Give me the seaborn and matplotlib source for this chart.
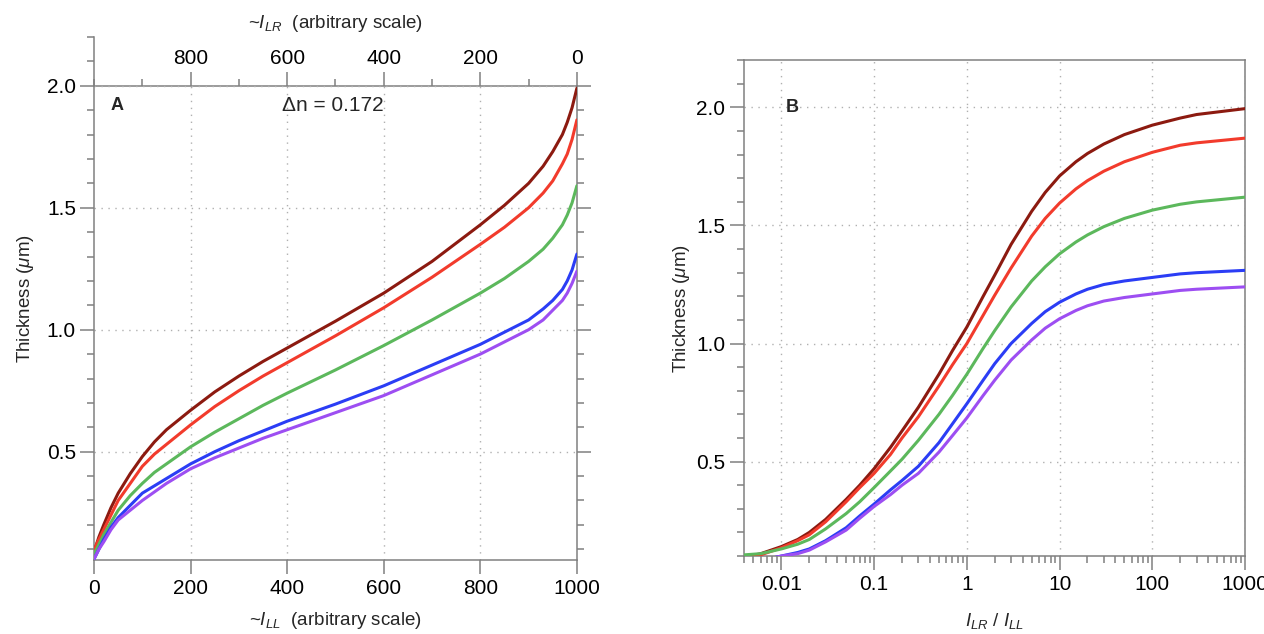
import numpy as np
import pandas as pd
import matplotlib
matplotlib.use("Agg")
import matplotlib.pyplot as plt
import matplotlib.ticker as mticker
import seaborn as sns

# ---- data ----
curve_names = ["c1", "c2", "c3", "c4", "c5"]
curve_colors = ["#8c1a10", "#f23b2c", "#5cb85c", "#2b3df5", "#9d4ef2"]

# panel A: thickness vs ~I_LL (arbitrary scale)
i_ll = [0, 5, 10, 20, 35, 50, 75, 100, 125, 150, 200, 250, 300, 350, 400, 500, 600,
        700, 800, 850, 900, 930, 950, 970, 980, 990, 1000]
a_darkred = [0.09, 0.12, 0.15, 0.20, 0.27, 0.33, 0.41, 0.48, 0.54, 0.59, 0.67, 0.745, 0.81,
             0.87, 0.925, 1.035, 1.15, 1.28, 1.43, 1.51, 1.60, 1.67, 1.73, 1.80, 1.85, 1.91, 1.99]
a_red = [0.09, 0.12, 0.14, 0.18, 0.24, 0.30, 0.37, 0.44, 0.49, 0.53, 0.61, 0.685, 0.75,
         0.81, 0.865, 0.975, 1.09, 1.215, 1.35, 1.42, 1.50, 1.56, 1.61, 1.68, 1.72, 1.78, 1.86]
a_green = [0.08, 0.10, 0.12, 0.16, 0.21, 0.26, 0.32, 0.37, 0.415, 0.45, 0.52, 0.58, 0.635,
           0.69, 0.74, 0.835, 0.935, 1.04, 1.15, 1.21, 1.28, 1.33, 1.375, 1.43, 1.47, 1.52, 1.59]
a_blue = [0.06, 0.08, 0.10, 0.14, 0.19, 0.23, 0.28, 0.33, 0.36, 0.39, 0.45, 0.50, 0.545,
          0.585, 0.625, 0.695, 0.77, 0.855, 0.94, 0.99, 1.04, 1.085, 1.12, 1.165, 1.20, 1.245, 1.31]
a_purple = [0.06, 0.08, 0.10, 0.13, 0.18, 0.22, 0.26, 0.30, 0.335, 0.37, 0.43, 0.475, 0.515,
            0.555, 0.59, 0.66, 0.73, 0.815, 0.90, 0.95, 1.00, 1.04, 1.08, 1.12, 1.15, 1.19, 1.24]

# panel B: thickness vs I_LR / I_LL
ratio = [0.004, 0.006, 0.01, 0.015, 0.02, 0.03, 0.05, 0.07, 0.1, 0.15, 0.2, 0.3, 0.5, 0.7,
         1, 1.5, 2, 3, 5, 7, 10, 15, 20, 30, 50, 100, 200, 300, 1000]
b_darkred = [0.095, 0.11, 0.14, 0.17, 0.20, 0.255, 0.34, 0.40, 0.47, 0.56, 0.63, 0.73, 0.87,
             0.97, 1.07, 1.20, 1.29, 1.42, 1.56, 1.64, 1.71, 1.77, 1.805, 1.845, 1.885,
             1.925, 1.955, 1.97, 1.995]
b_red = [0.09, 0.105, 0.135, 0.165, 0.19, 0.245, 0.33, 0.39, 0.45, 0.53, 0.60, 0.69, 0.82,
         0.91, 1.00, 1.12, 1.205, 1.32, 1.455, 1.53, 1.595, 1.655, 1.69, 1.73, 1.77,
         1.81, 1.84, 1.85, 1.87]
b_green = [0.105, 0.11, 0.13, 0.15, 0.17, 0.215, 0.28, 0.33, 0.39, 0.46, 0.51, 0.59, 0.70,
           0.78, 0.87, 0.98, 1.055, 1.155, 1.265, 1.325, 1.38, 1.43, 1.46, 1.495, 1.53,
           1.565, 1.59, 1.60, 1.62]
b_blue = [0.06, 0.08, 0.10, 0.115, 0.13, 0.165, 0.22, 0.27, 0.32, 0.38, 0.42, 0.48, 0.58,
          0.66, 0.745, 0.845, 0.915, 1.00, 1.085, 1.135, 1.175, 1.21, 1.23, 1.25, 1.265,
          1.28, 1.295, 1.30, 1.31]
b_purple = [0.06, 0.08, 0.10, 0.11, 0.125, 0.16, 0.21, 0.26, 0.31, 0.36, 0.40, 0.45, 0.54,
            0.61, 0.685, 0.78, 0.845, 0.93, 1.015, 1.065, 1.105, 1.14, 1.16, 1.18, 1.195,
            1.21, 1.225, 1.23, 1.24]

y_ticks = [0.5, 1.0, 1.5, 2.0]
top_ticks = [0, 200, 400, 600, 800]

# long tables for seaborn
df_a = pd.DataFrame({
    "x": np.tile(i_ll, len(curve_names)),
    "y": np.concatenate([a_darkred, a_red, a_green, a_blue, a_purple]),
    "curve": np.repeat(curve_names, len(i_ll)),
})
df_b = pd.DataFrame({
    "x": np.tile(ratio, len(curve_names)),
    "y": np.concatenate([b_darkred, b_red, b_green, b_blue, b_purple]),
    "curve": np.repeat(curve_names, len(ratio)),
})

sns.set_theme(style="white")
plt.rcParams["font.family"] = ["Liberation Sans", "DejaVu Sans"]
plt.rcParams.update({
    "mathtext.fontset": "custom",
    "mathtext.rm": "Liberation Sans",
    "mathtext.it": "Liberation Sans:italic",
    "mathtext.bf": "Liberation Sans:bold",
    "axes.edgecolor": "#808080",
    "axes.linewidth": 1.1,
    "xtick.color": "#808080",
    "ytick.color": "#808080",
    "xtick.labelcolor": "black",
    "ytick.labelcolor": "black",
    "xtick.labelsize": 15,
    "ytick.labelsize": 15,
})

grid_kw = dict(color="#b0b0b0", linestyle=(0, (1, 4)), linewidth=1.0)
palette = dict(zip(curve_names, curve_colors))
spine_c = "#808080"

fig = plt.figure(figsize=(12.64, 6.34), dpi=100)

# ---------------- panel A ----------------
axA = fig.add_axes([0.0744, 0.1167, 0.382, 0.825])
sns.lineplot(data=df_a, x="x", y="y", hue="curve", palette=palette, legend=False,
             linewidth=2.2, ax=axA, zorder=3)
ylo, yhi = 0.056, 2.2
axA.set_xlim(0, 1000)
axA.set_ylim(ylo, yhi)
axA.spines["top"].set_visible(False)
axA.spines["right"].set_bounds(ylo, 2.0)

axA.xaxis.set_major_locator(mticker.MultipleLocator(200))
axA.xaxis.set_minor_locator(mticker.NullLocator())
axA.yaxis.set_major_locator(mticker.FixedLocator(y_ticks))
axA.yaxis.set_major_formatter(mticker.FormatStrFormatter("%.1f"))
axA.yaxis.set_minor_locator(mticker.MultipleLocator(0.1))
axA.tick_params(axis="x", which="major", direction="out", length=10, width=1.1,
                bottom=True, top=False, pad=4)
axA.tick_params(axis="y", which="both", direction="out", left=True, right=False)
axA.tick_params(axis="y", which="major", length=10, width=1.1, pad=3)
axA.tick_params(axis="y", which="minor", length=5, width=1.1)

# grid: horizontal full width, vertical only up to 2.0
axA.yaxis.grid(True, **grid_kw)
frac_top = (2.0 - ylo) / (yhi - ylo)
for xv in [200, 400, 600, 800]:
    axA.axvline(xv, ymin=0, ymax=frac_top, zorder=0, **grid_kw)

axA.set_xlabel(r"~$I_{LL}$  (arbitrary scale)", fontsize=13.5, labelpad=8)
axA.set_ylabel(r"Thickness ($\mu$m)", fontsize=13.5, labelpad=8)

# top axis: ~I_LR = 1000 - I_LL, drawn at y = 2.0
top = axA.secondary_xaxis(frac_top, functions=(lambda v: 1000 - v, lambda v: 1000 - v))
top.set_xticks(top_ticks)
top.xaxis.set_minor_locator(mticker.MultipleLocator(100))
top.tick_params(which="major", length=10, width=1.1, pad=3)
top.tick_params(which="minor", length=5, width=1.1)
for s in top.spines.values():
    s.set_color(spine_c)
    s.set_linewidth(1.1)
top.set_xlabel(r"~$I_{LR}$  (arbitrary scale)", fontsize=13.5, labelpad=15)

# right ticks of A only up to 2.0
right = axA.secondary_yaxis("right")
right.yaxis.set_major_locator(mticker.FixedLocator(y_ticks))
right.yaxis.set_major_formatter(mticker.NullFormatter())
right.yaxis.set_minor_locator(mticker.FixedLocator(np.arange(1, 20) / 10))
right.tick_params(which="major", length=10, width=1.1)
right.tick_params(which="minor", length=5, width=1.1)
for s in right.spines.values():
    s.set_visible(False)

axA.text(35, 1.92, "A", fontsize=13, fontweight="bold", ha="left", va="center")
axA.text(495, 1.92, r"Δn = 0.172", fontsize=15, ha="center", va="center")

# ---------------- panel B ----------------
axB = fig.add_axes([0.589, 0.123, 0.396, 0.782])
sns.lineplot(data=df_b, x="x", y="y", hue="curve", palette=palette, legend=False,
             linewidth=2.2, ax=axB, zorder=3)
axB.set_xscale("log")
axB.set_xlim(0.004, 1000)
axB.set_ylim(0.1, 2.2)
axB.xaxis.set_major_locator(mticker.LogLocator(base=10))
axB.xaxis.set_major_formatter(mticker.FuncFormatter(lambda v, p: f"{v:g}"))
axB.xaxis.set_minor_locator(mticker.LogLocator(base=10, subs=np.arange(2, 10)))
axB.xaxis.set_minor_formatter(mticker.NullFormatter())
axB.yaxis.set_major_locator(mticker.FixedLocator(y_ticks))
axB.yaxis.set_major_formatter(mticker.FormatStrFormatter("%.1f"))
axB.yaxis.set_minor_locator(mticker.MultipleLocator(0.1))
axB.tick_params(which="both", direction="out", left=True, bottom=True, top=False, right=False)
axB.tick_params(which="major", length=10, width=1.1, pad=4)
axB.tick_params(which="minor", length=5, width=1.1)
axB.grid(True, which="major", **grid_kw)

axB.set_xlabel(r"$I_{LR}$ / $I_{LL}$", fontsize=13.5, labelpad=12)
axB.set_ylabel(r"Thickness ($\mu$m)", fontsize=13.5, labelpad=3)
axB.text(0.0112, 2.0, "B", fontsize=13, fontweight="bold", ha="left", va="center")

fig.savefig("out.png", dpi=100)
